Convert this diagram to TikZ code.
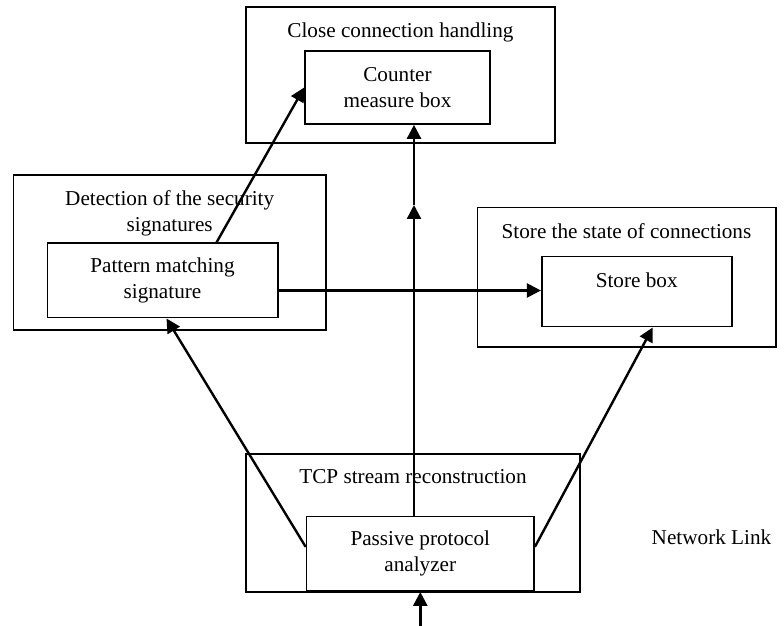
\documentclass[tikz,border=0pt]{standalone}
\usepackage{fontspec}
\setmainfont{Liberation Serif}
\usetikzlibrary{positioning, arrows.meta, calc}

\begin{document}
\begin{tikzpicture}[
      x=0.5pt, y=-0.5pt,
      every node/.style={font=\fontsize{10.6}{13}\selectfont},
      outerbox/.style={draw, line width=0.8pt, inner sep=0pt},
      innerbox/.style={draw, line width=0.8pt, inner sep=0pt, align=center},
      boxtitle/.style={inner sep=0pt, align=center},
      arr/.style={-{Triangle[length=7pt,width=7pt]}, line width=1.2pt},
    ]
    \useasboundingbox (0,0) rectangle (784,626);

    % outer boxes
    \node[outerbox, minimum width=154.5pt, minimum height=68.2pt] (close) at (400.5,75) {};
    \node[outerbox, minimum width=156.4pt, minimum height=77.5pt] (detect) at (169.7,252.5) {};
    \node[outerbox, minimum width=149.2pt, minimum height=69.8pt] (state) at (626.5,277.5) {};
    \node[outerbox, minimum width=167pt, minimum height=69pt] (tcp) at (413,523) {};

    \node[boxtitle, below=8pt of close.north] (closeT) {Close connection handling};
    \node[boxtitle, below=8pt of detect.north] (detectT) {Detection of the security\\signatures};
    \node[boxtitle, below=8pt of state.north] (stateT) {Store the state of connections};
    \node[boxtitle, below=8pt of tcp.north] (tcpT) {TCP stream reconstruction};

    % inner boxes
    \node[innerbox, minimum width=92.5pt, minimum height=36.5pt] (cnt) at (397.5,87.5) {Counter\\measure box};
    \node[innerbox, minimum width=115.2pt, minimum height=37.2pt] (pat) at (162.5,280.5) {Pattern matching\\signature};
    \node[innerbox, minimum width=95pt, text height=15.5pt, text depth=19.5pt] (sto) at (636.7,291.7) {Store box};
    \node[innerbox, minimum width=113.8pt, minimum height=37.2pt] (pas) at (420.3,553.9) {Passive protocol\\analyzer};

    \node (lnk) at (711.5,537) {Network Link};

    \coordinate (vx) at (414,0);
    \coordinate (mid) at (414,205);
    \coordinate (hy) at (0,290.5);
    \coordinate (feed) at (420.3,626);

    \draw[arr] (feed) -- (pas.south);
    \draw[arr] (pas.north -| vx) -- (mid);
    \draw[arr] (mid) -- (cnt.south -| vx);
    \draw[arr] ([yshift=3.5pt]pas.west) -- ([xshift=2pt]pat.south);
    \draw[arr] ([yshift=3.5pt]pas.east) -- ([xshift=8pt]sto.south);
    \draw[arr] (pat.east |- hy) -- (sto.west |- hy);
    \draw[arr] ([xshift=27pt]pat.north) -- (cnt.west);
  \end{tikzpicture}
\end{document}
